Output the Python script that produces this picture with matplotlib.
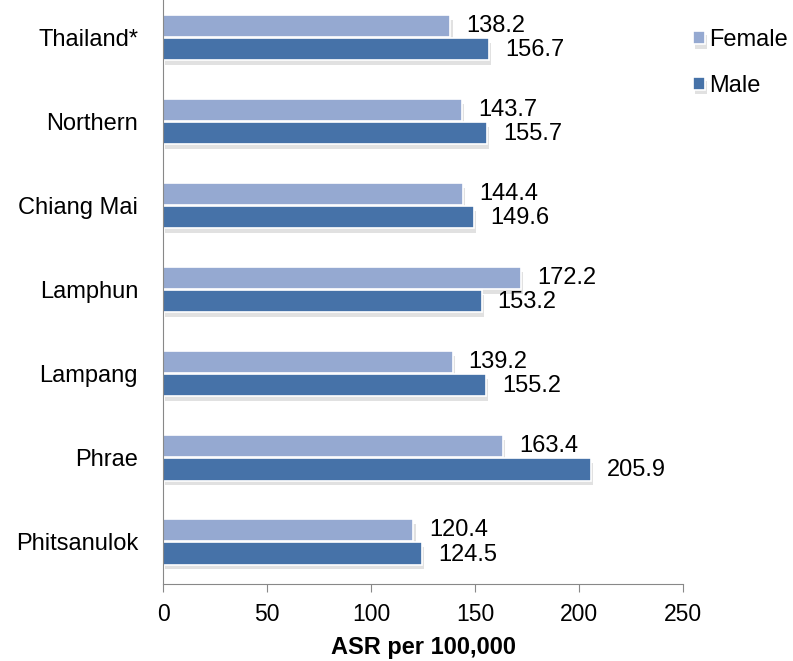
import matplotlib
matplotlib.use('Agg')
import matplotlib.pyplot as plt
import matplotlib.patheffects as pe
import numpy as np

plt.rcParams['font.family'] = ['Liberation Sans', 'DejaVu Sans']

# Данные
regions = ['Thailand*', 'Northern', 'Chiang Mai', 'Lamphun', 'Lampang', 'Phrae', 'Phitsanulok']
female = [138.2, 143.7, 144.4, 172.2, 139.2, 163.4, 120.4]
male = [156.7, 155.7, 149.6, 153.2, 155.2, 205.9, 124.5]

female_color = '#95a9d1'
male_color = '#4672a8'

fig = plt.figure(figsize=(7.93, 6.61), dpi=100)
ax = fig.add_axes([0.2056, 0.1165, 0.6557, 0.8896])

y = np.arange(len(regions))[::-1]
h = 0.262
off = 0.137
shadow = [pe.SimplePatchShadow(offset=(1.5, -3), shadow_rgbFace='#888888', alpha=0.25), pe.Normal()]

bf = ax.barh(y + off, female, height=h, color=female_color, edgecolor='white',
             linewidth=1.2, label='Female', path_effects=shadow)
bm = ax.barh(y - off, male, height=h, color=male_color, edgecolor='white',
             linewidth=1.2, label='Male', path_effects=shadow)

# подписи значений
for yi, v in zip(y, female):
    ax.annotate(f'{v:.1f}', (v, yi + off), xytext=(16, 0), textcoords='offset pixels',
                va='center', ha='left', fontsize=17)
for yi, v in zip(y, male):
    ax.annotate(f'{v:.1f}', (v, yi - off), xytext=(16, -1), textcoords='offset pixels',
                va='center', ha='left', fontsize=17)

ax.set_xlim(0, 250)
ax.set_ylim(-0.5, len(regions) - 0.5)
ax.set_xticks([0, 50, 100, 150, 200, 250])
ax.set_yticks(y)
ax.set_yticklabels(regions, fontsize=17)
ax.tick_params(axis='x', labelsize=16.5, direction='out', length=6, color='#888888', pad=8)
ax.tick_params(axis='y', length=0, pad=18)
ax.set_xlabel('ASR per 100,000', fontsize=17, fontweight='bold', labelpad=7)

for s in ['top', 'right']:
    ax.spines[s].set_visible(False)
ax.spines['left'].set_color('#888888')
ax.spines['bottom'].set_color('#888888')

leg = fig.legend(handles=[bf, bm], loc='upper left', bbox_to_anchor=(0.874, 0.956),
                 frameon=False, fontsize=17, handlelength=0.5, handleheight=0.5,
                 handletextpad=0.2, labelspacing=1.0, borderpad=0, borderaxespad=0)

fig.savefig('out.png', dpi=100)
